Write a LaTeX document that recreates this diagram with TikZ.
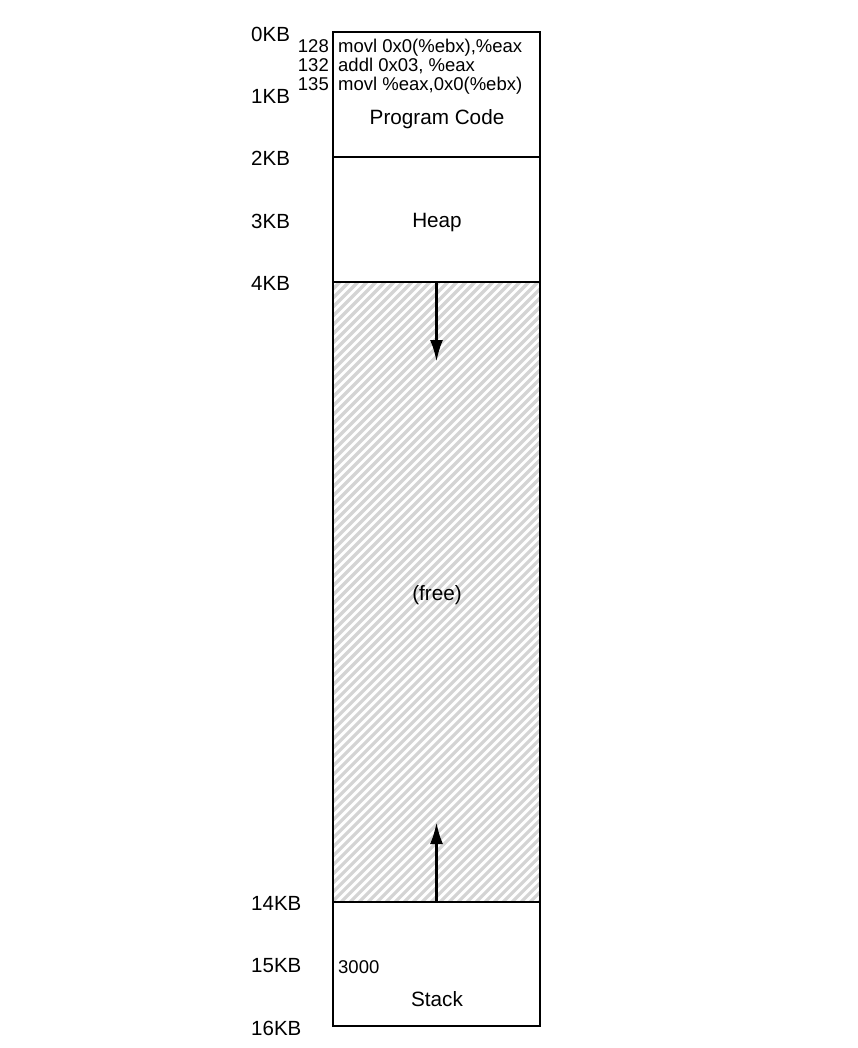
\documentclass[tikz,border=0pt]{standalone}
\usepackage{fontspec}
\setmainfont{Liberation Sans}
\usetikzlibrary{arrows.meta}
\tikzset{
  region/.style={draw=black, line width=1.8pt, minimum width=207pt, inner sep=0pt, outer sep=0pt},
  kb/.style={anchor=west, inner sep=0pt, font=\fontsize{20.5}{23}\selectfont},
  lbl/.style={inner sep=0pt, font=\fontsize{20.7}{23}\selectfont},
  small/.style={inner sep=0pt, font=\fontsize{18.5}{19}\selectfont},
  growarrow/.style={line width=3pt, -{Latex[length=22pt,width=13pt]}},
  hatch/.style={line width=3.2pt, color=black!17},
}
\begin{document}
\begin{tikzpicture}[x=1pt,y=-1pt]
\useasboundingbox (0,0) rectangle (858,1048);
% regions
\node[region, minimum height=125pt] (code) at (436.5,94.5) {};
\node[region, minimum height=125pt] (heap) at (436.5,219.5) {};
\node[region, minimum height=620pt] (free) at (436.5,592) {};
\node[region, minimum height=124pt] (stack) at (436.5,964) {};
% hatch in free region
\begin{scope}
  \clip (333,282) rectangle (540,902);
  \foreach \s in {-630,-621,...,220}{
    \draw[hatch] (333+\s,910) -- (973+\s,270);
  }
\end{scope}
\draw[line width=1.8pt] (free.north west) rectangle (free.south east);
% arrows
\coordinate (heapgrow) at (436.5,362);
\coordinate (stackgrow) at (436.5,822);
\draw[growarrow] (heap.south -| heapgrow) -- (heapgrow);
\draw[growarrow] (stack.north -| stackgrow) -- (stackgrow);
% region labels
\node[lbl] (pc) at (437,119) {Program Code};
\node[lbl] (hp) at (437,223) {Heap};
\node[lbl] (fr) at (437,595) {(free)};
\node[lbl] (st) at (437,999) {Stack};
% code lines
\node[small, anchor=base east] (n1) at (329,53) {128};
\node[small, anchor=base east] (n2) at (329,72) {132};
\node[small, anchor=base east] (n3) at (329,91) {135};
\node[small, anchor=base west] (c1) at (338,53) {movl 0x0(\%ebx),\%eax};
\node[small, anchor=base west] (c2) at (338,72) {addl 0x03, \%eax};
\node[small, anchor=base west] (c3) at (338,91) {movl \%eax,0x0(\%ebx)};
\node[small, anchor=west] (sa) at (338,967) {3000};
% KB labels
\node[kb] (k0) at (251,34) {0KB};
\node[kb] (k1) at (251,96) {1KB};
\node[kb] (k2) at (251,158) {2KB};
\node[kb] (k3) at (251,221) {3KB};
\node[kb] (k4) at (251,283) {4KB};
\node[kb] (k14) at (251,903) {14KB};
\node[kb] (k15) at (251,966) {15KB};
\node[kb] (k16) at (251,1028) {16KB};
\end{tikzpicture}
\end{document}
